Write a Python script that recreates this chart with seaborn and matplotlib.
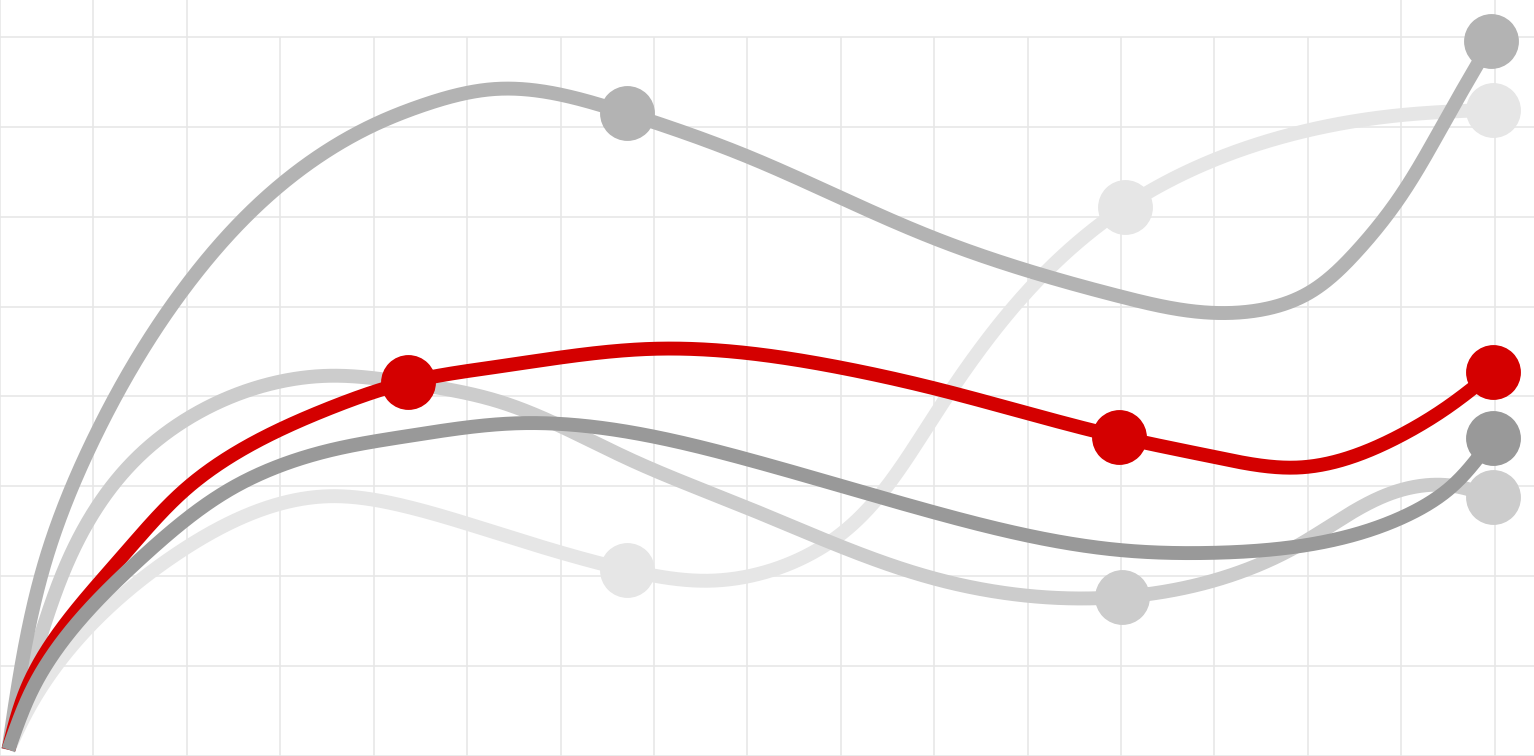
import numpy as np
import pandas as pd
import matplotlib
matplotlib.use("Agg")
import matplotlib.pyplot as plt
import seaborn as sns

# ================= data (grid units) =================
red_x = [0.09, 0.28, 1.31, 2.0, 3.53, 4.37, 5.32, 7.0, 9.0, 10.0, 11.98,
         12.98, 13.91, 15.0, 15.52, 15.98]
red_y = [0.07, 0.73, 2.22, 2.98, 3.87, 4.16, 4.33, 4.53, 4.32, 4.09, 3.55,
         3.33, 3.21, 3.57, 3.90, 4.27]

dark_x = [0.09, 0.34, 1.53, 2.5, 3.53, 4.37, 5.5, 8.0, 10.0, 12.0, 12.98,
          15.0, 15.52, 15.98]
dark_y = [0.07, 0.73, 2.22, 2.99, 3.40, 3.56, 3.70, 3.30, 2.71, 2.29, 2.26,
          2.65, 2.98, 3.54]

mid_x = [0.09, 0.48, 0.75, 1.5, 3.53, 4.37, 5.32, 6.74, 8.0, 9.98, 12.01,
         13.91, 15.0, 15.52, 15.98]
mid_y = [0.07, 1.48, 2.22, 3.35, 4.23, 4.15, 3.95, 3.30, 2.76, 1.98, 1.77,
         2.35, 2.96, 3.01, 2.88]

light_x = [0.09, 0.27, 1.85, 3.53, 4.37, 5.32, 6.71, 7.6, 8.99, 9.98, 11.06,
           12.04, 14.0, 15.0, 15.98]
light_y = [0.07, 0.46, 2.22, 2.89, 2.77, 2.48, 2.07, 1.95, 2.46, 3.75, 5.24,
           6.11, 6.96, 7.13, 7.19]

gray_x = [0.09, 0.50, 1.0, 2.0, 3.0, 4.0, 4.5, 5.3, 6.71, 8.0, 9.0, 10.0,
          12.0, 12.98, 13.99, 14.52, 14.98, 15.52, 15.96]
gray_y = [0.07, 2.22, 3.52, 5.24, 6.35, 7.02, 7.23, 7.42, 7.15, 6.67, 6.21,
          5.76, 5.11, 4.93, 5.14, 5.61, 6.21, 7.16, 7.95]

# highlighted points (x values that get a dot)
red_dots = [4.37, 11.98, 15.98]
dark_dots = [15.98]
mid_dots = [12.01, 15.98]
light_dots = [6.71, 12.04, 15.98]
gray_dots = [6.71, 15.96]
# ===========================================================================

# drawing order: bottom -> top
series = [
    (light_x, light_y, light_dots, "#e6e6e6"),
    (mid_x, mid_y, mid_dots, "#cccccc"),
    (gray_x, gray_y, gray_dots, "#b3b3b3"),
    (red_x, red_y, red_dots, "#d40000"),
    (dark_x, dark_y, dark_dots, "#999999"),
]


def natural_spline(t, y, ts):
    """natural cubic spline through (t, y), evaluated at ts"""
    t = np.asarray(t, float)
    y = np.asarray(y, float)
    n = len(t)
    h = np.diff(t)
    A = np.zeros((n, n))
    b = np.zeros(n)
    A[0, 0] = 1
    A[-1, -1] = 1
    for i in range(1, n - 1):
        A[i, i - 1] = h[i - 1]
        A[i, i] = 2 * (h[i - 1] + h[i])
        A[i, i + 1] = h[i]
        b[i] = 6 * ((y[i + 1] - y[i]) / h[i] - (y[i] - y[i - 1]) / h[i - 1])
    M = np.linalg.solve(A, b)
    idx = np.clip(np.searchsorted(t, ts) - 1, 0, n - 2)
    t0, t1 = t[idx], t[idx + 1]
    hh = t1 - t0
    a0 = t1 - ts
    a1 = ts - t0
    return (M[idx] * a0 ** 3 / (6 * hh) + M[idx + 1] * a1 ** 3 / (6 * hh)
            + (y[idx] / hh - M[idx] * hh / 6) * a0
            + (y[idx + 1] / hh - M[idx + 1] * hh / 6) * a1)


def smooth(xk, yk, num=1500):
    # chord-length parametrised natural spline through the points
    xk = np.asarray(xk, float)
    yk = np.asarray(yk, float)
    t = np.concatenate([[0], np.cumsum(np.hypot(np.diff(xk), np.diff(yk)))])
    ts = np.linspace(0, t[-1], num)
    return natural_spline(t, xk, ts), natural_spline(t, yk, ts)


sns.set_theme(style="white")
fig = plt.figure(figsize=(15.34, 7.56), dpi=100)
ax = fig.add_axes([0, 0, 1, 1])
ax.set_xlim(0, 16.42)
ax.set_ylim(0, 8.41)

# grid
grid_c = "#e6e6e6"
for k in range(17):
    top = 8.41 if k in (0, 1, 2, 15, 16) else 8
    ax.vlines(k, 0, top, color=grid_c, lw=1.1, zorder=0)
ax.hlines(np.arange(0, 9), 0, 16.42, color=grid_c, lw=1.1, zorder=0)

for z, (xk, yk, dots, col) in enumerate(series):
    cx, cy = smooth(xk, yk)
    curve = pd.DataFrame({"x": cx, "y": cy})
    n_before = len(ax.lines)
    sns.lineplot(data=curve, x="x", y="y", ax=ax, color=col,
                 sort=False, estimator=None, zorder=2 + z)
    for ln in ax.lines[n_before:]:
        ln.set_linewidth(10)
        ln.set_solid_capstyle("butt")
    pts = pd.DataFrame({"x": dots,
                        "y": [yk[xk.index(d)] for d in dots]})
    sns.scatterplot(data=pts, x="x", y="y", ax=ax, color=col, s=1560,
                    linewidth=0, zorder=2 + z)

ax.set_axis_off()
fig.savefig("out.png", dpi=100)
plt.close(fig)
